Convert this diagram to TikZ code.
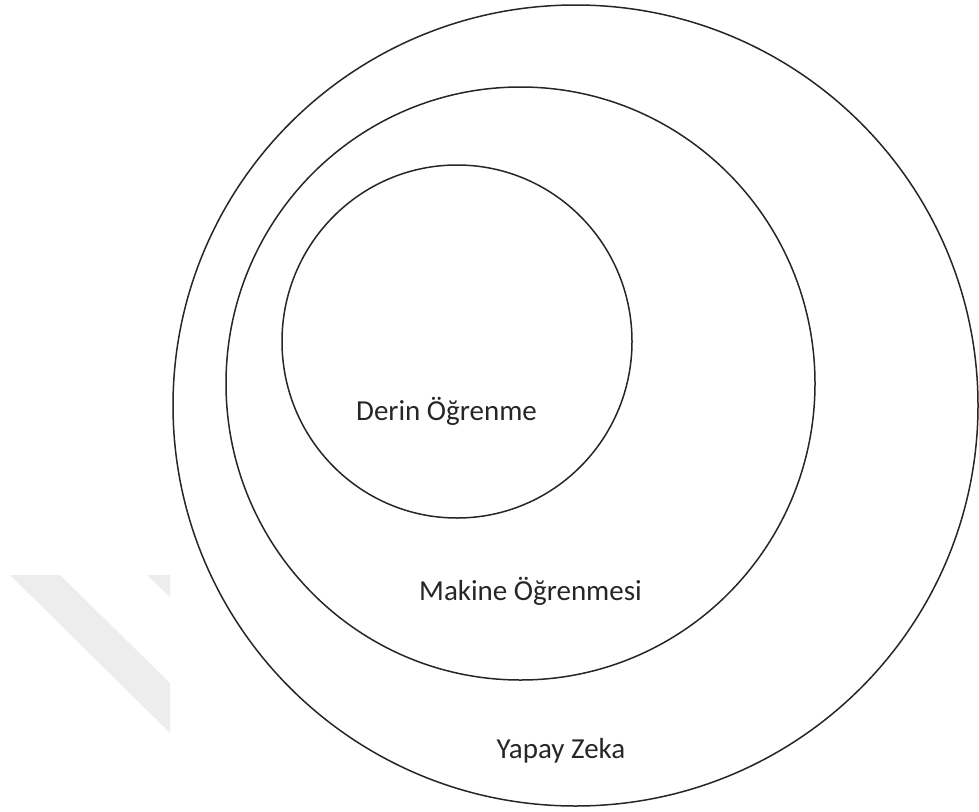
\documentclass[tikz,border=0pt]{standalone}
\usepackage{fontspec}
\setmainfont{Carlito}
\usetikzlibrary{shapes.geometric}
\begin{document}
\begin{tikzpicture}[x=1pt,y=-1pt,
  ring/.style={draw=black!85,line width=1.5pt,ellipse,inner sep=0pt},
  lbl/.style={font=\fontsize{29}{34}\selectfont,text=black!85,inner sep=0pt},
  wm/.style={fill=black!7,draw=none}]
\useasboundingbox (0,0) rectangle (979,811);
% faint watermark
\fill[wm] (10,575) -- (60,575) -- (170,683) -- (170,733) -- cycle;
\fill[wm] (147,575) -- (170,575) -- (170,597) -- cycle;
% rings
\node[ring,minimum width=805,minimum height=801] (ai) at (575.5,405.5) {};
\node[ring,minimum width=589,minimum height=593] (ml) at (520.5,383.5) {};
\node[ring,minimum width=350,minimum height=353] (dl) at (457,341.5) {};
% labels
\node[lbl,anchor=base] (tdl) at (446.5,420) {Derin Öğrenme};
\node[lbl,anchor=base] (tml) at (530.5,600) {Makine Öğrenmesi};
\node[lbl,anchor=base] (tai) at (561,758) {Yapay Zeka};
\end{tikzpicture}
\end{document}
